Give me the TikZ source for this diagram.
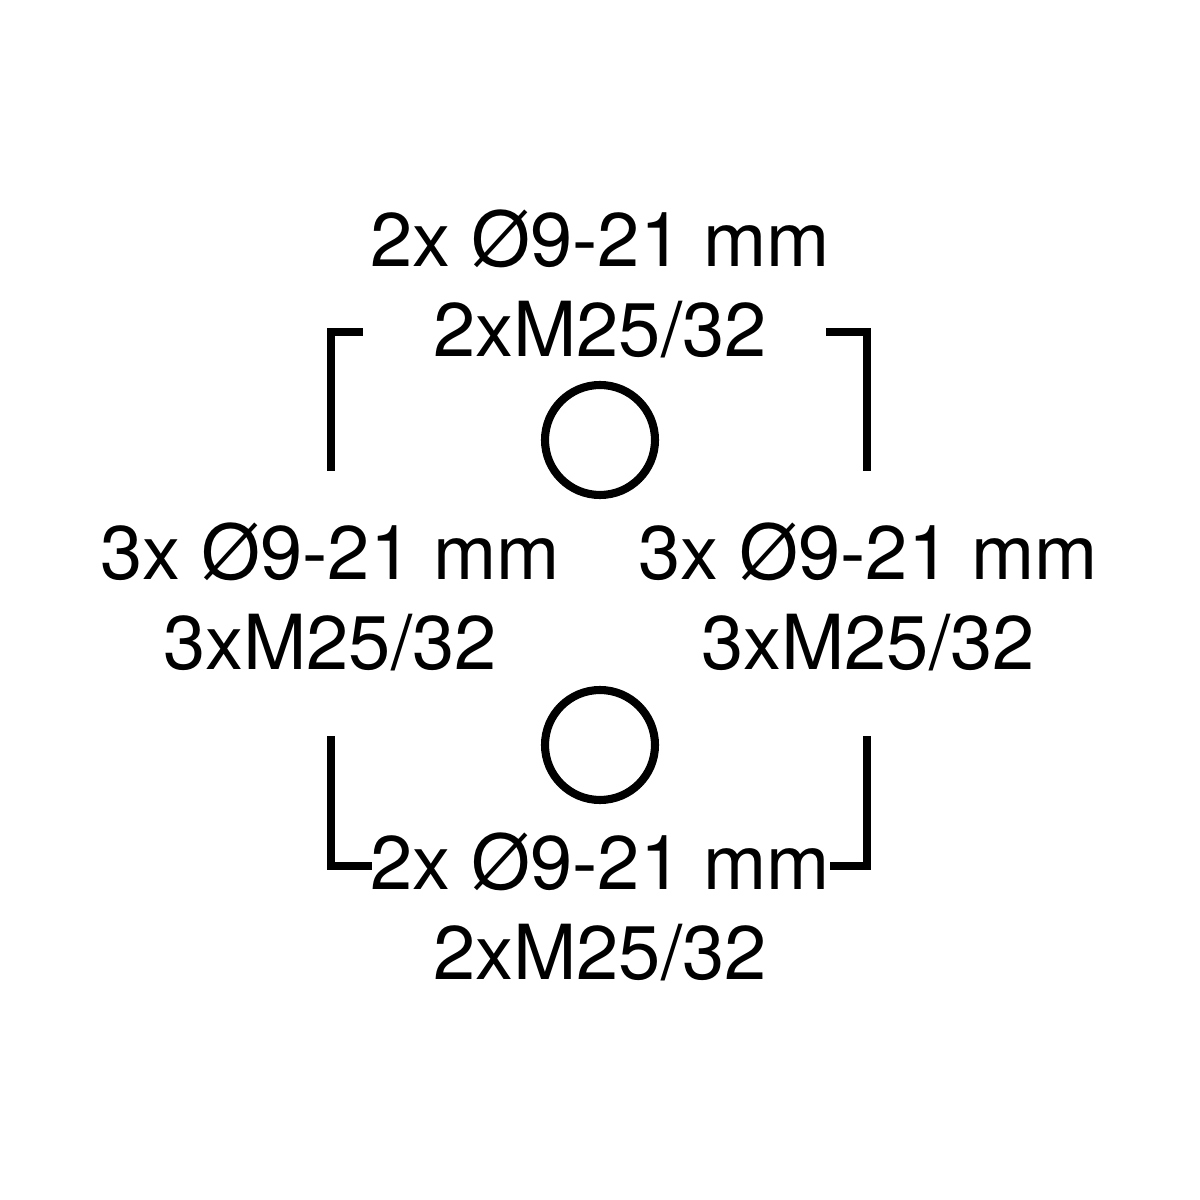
\documentclass[tikz,border=0pt]{standalone}
\usepackage{fontspec}
\setmainfont{TeX Gyre Heros}
\usepackage{tikz}
\usetikzlibrary{positioning}

\begin{document}
\begin{tikzpicture}[
		label/.style={align=center, inner sep=0pt, anchor=base, font=\fontsize{21.6}{25.8}\selectfont},
		hole/.style={circle, draw, line width=2.3pt, minimum size=1.1cm, inner sep=0pt},
		bracket/.style={line width=2.3pt, line join=miter}
		]
		
		\useasboundingbox (0,0) rectangle (12,12);
		
		% Labels on the four sides (anchored on their last line)
		\node[label] (top) at (6.0,8.43) {2x Ø9-21 mm\\2xM25/32};
		\node[label] (left) at (3.3,5.30) {3x Ø9-21 mm\\3xM25/32};
		\node[label] (right) at (8.68,5.30) {3x Ø9-21 mm\\3xM25/32};
		\node[label] (bottom) at (6.0,2.20) {2x Ø9-21 mm\\2xM25/32};
		
		% Cable entries
		\node[hole] (upper) at (6.0,7.60) {};
		\node[hole] (lower) at (6.0,4.55) {};
		
		% Corner brackets
		\draw[bracket] (3.31,7.29) -- (3.31,8.68) -- (3.63,8.68);
		\draw[bracket] (8.26,8.68) -- (8.67,8.68) -- (8.67,7.29);
		\draw[bracket] (3.31,4.64) -- (3.31,3.34) -- (3.72,3.34);
		\draw[bracket] (8.30,3.34) -- (8.67,3.34) -- (8.67,4.64);
		
	\end{tikzpicture}
\end{document}
